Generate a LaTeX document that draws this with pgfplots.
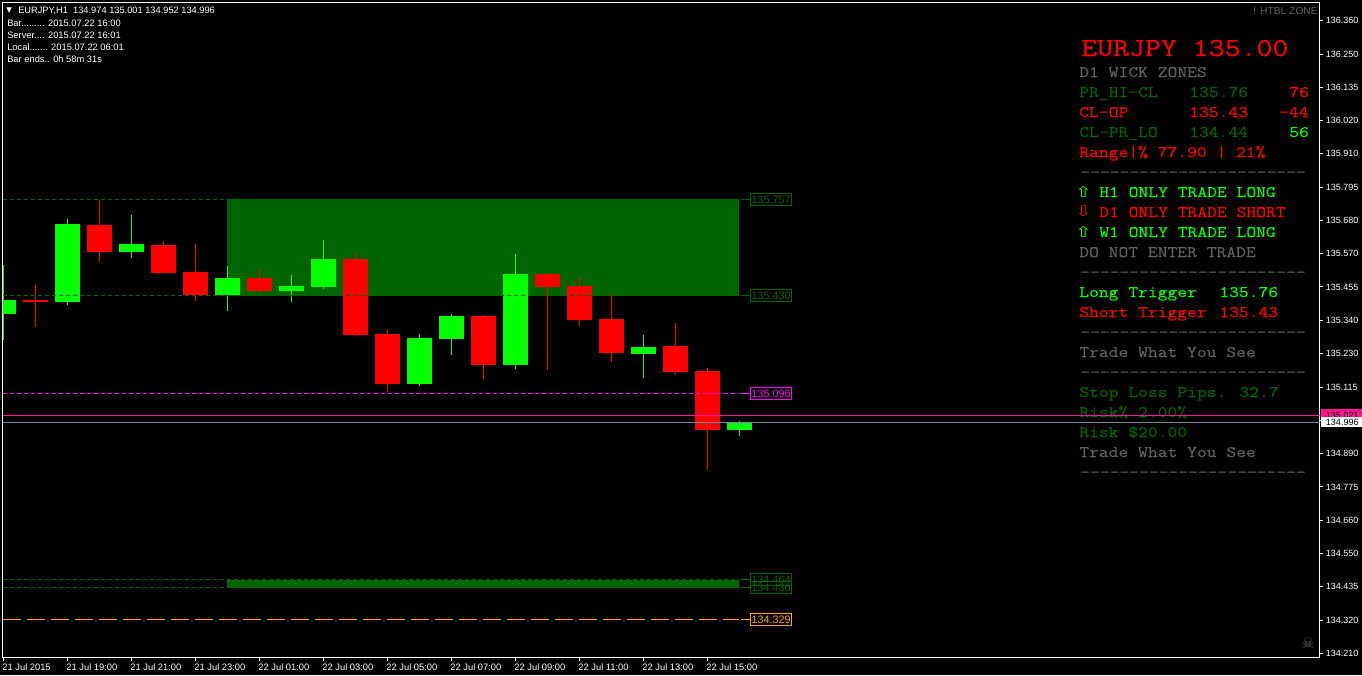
\documentclass[border=0pt]{standalone}
\usepackage{fontspec}
\setmainfont{Liberation Sans}
\newfontfamily\sym{DejaVu Sans}
\newfontfamily\cour[FakeStretch=1.19,FakeBold=0.2]{Latin Modern Mono}
\usepackage{pgfplots}
\usepackage{pgfplotstable}
\pgfplotsset{compat=1.18}

\definecolor{upcol}{RGB}{0,255,0}
\definecolor{dncol}{RGB}{255,0,0}
\definecolor{zone}{RGB}{0,100,0}
\definecolor{txtgray}{RGB}{96,96,96}
\definecolor{lvlorange}{RGB}{255,165,0}
\definecolor{lvlmag}{RGB}{255,0,255}
\definecolor{bidline}{RGB}{119,136,153}
\definecolor{askline}{RGB}{255,20,147}

% candles: i = bar number (1 bar = 32 px)
\pgfplotstableread{
i  bot     top     low     high
0  135.368 135.416 135.280 135.535
2  135.409 135.674 135.399 135.691
4  135.579 135.606 135.559 135.704
7  135.433 135.490 135.378 135.531
9  135.446 135.463 135.409 135.501
10 135.460 135.555 135.453 135.619
13 135.131 135.287 135.124 135.300
14 135.283 135.361 135.229 135.368
16 135.195 135.504 135.181 135.572
20 135.232 135.256 135.151 135.297
23 134.974 135.001 134.954 135.005
}\upbars
\pgfplotstableread{
i  bot     top     low     high
1  135.409 135.416 135.324 135.467
3  135.579 135.670 135.545 135.757
5  135.507 135.603 135.507 135.616
6  135.433 135.511 135.412 135.606
8  135.446 135.490 135.440 135.521
11 135.297 135.555 135.293 135.575
12 135.131 135.300 135.103 135.317
15 135.195 135.361 135.147 135.365
17 135.460 135.504 135.178 135.504
18 135.348 135.463 135.327 135.497
19 135.236 135.351 135.205 135.433
21 135.171 135.260 135.161 135.338
22 134.974 135.175 134.838 135.185
}\dnbars

\newcommand\mrow[4]{\node[anchor=base west,inner sep=0pt,text=#3] at (#1,#2)
  {\cour\fontsize{12}{14}\selectfont #4};}
\newcommand\info[3]{\node[anchor=west,inner sep=0pt,text=#3] at (7,#1)
  {\fontsize{7}{8}\selectfont #2};}
\newcommand\dashrow[1]{\mrow{1080}{#1}{txtgray}{-----------------------}}
\newcommand\arrowmark[3]{\node[anchor=base west,inner sep=0pt,text=#3,xscale=1.4,transform shape]
  at (1074.5,#1) {\sym\fontsize{11}{12}\selectfont #2};}

\newcommand\lvlbox[4]{\node[draw=#3,text=#3,line width=.75pt,inner sep=0pt,
  minimum width=31pt,minimum height=9pt,font=\fontsize{8.1}{9}\selectfont]
  at (axis cs:#1,#2) {#4};}

\begin{document}
\begin{tikzpicture}
\begin{scope}[x=.75pt,y=-.75pt]
  \fill[black] (0,0) rectangle (1362,675);
  \useasboundingbox (0,0) rectangle (1362,675);

  % info block
  \node[anchor=west,inner sep=0pt,text=white] at (6,10.5) {\sym\fontsize{5.5}{6}\selectfont ▼};
  \node[anchor=west,inner sep=0pt,text=white] at (18,10.5)
    {\fontsize{6.95}{8}\selectfont EURJPY,H1\ \ 134.974 135.001 134.952 134.996};
  \info{23.5}{Bar......... 2015.07.22 16:00}{white}
  \info{35.5}{Server.... 2015.07.22 16:01}{white}
  \info{47.5}{Local....... 2015.07.22 06:01}{white}
  \info{59.5}{Bar ends.. 0h 58m 31s}{white}
  \node[anchor=east,inner sep=0pt,text=txtgray] at (1318,11)
    {\fontsize{7.7}{8}\selectfont ! HTBL ZONE};
  \node[text=txtgray,inner sep=0pt] at (1308,643) {\sym\fontsize{11}{12}\selectfont ☠};

  % text panel
  \node[anchor=base west,inner sep=0pt,text=dncol] at (1081,56)
    {\cour\fontsize{19.5}{22}\selectfont EURJPY 135.00};
  \mrow{1079}{77}{txtgray}{D1 WICK ZONES}
  \mrow{1079}{97}{zone}{PR\_HI-CL}
  \mrow{1189}{97}{zone}{135.76}
  \mrow{1289}{97}{dncol}{76}
  \mrow{1079}{117}{dncol}{CL-OP}
  \mrow{1189}{117}{dncol}{135.43}
  \mrow{1279}{117}{dncol}{-44}
  \mrow{1079}{137}{zone}{CL-PR\_LO}
  \mrow{1189}{137}{zone}{134.44}
  \mrow{1289}{137}{upcol}{56}
  \mrow{1079}{157}{dncol}{Range|\% 77.90 | 21\%}
  \dashrow{177}
  \arrowmark{197}{⇧}{upcol}
  \mrow{1099}{197}{upcol}{H1 ONLY TRADE LONG}
  \arrowmark{216}{⇩}{dncol}
  \mrow{1099}{217}{dncol}{D1 ONLY TRADE SHORT}
  \arrowmark{237}{⇧}{upcol}
  \mrow{1099}{237}{upcol}{W1 ONLY TRADE LONG}
  \mrow{1079}{257}{txtgray}{DO NOT ENTER TRADE}
  \dashrow{277}
  \mrow{1079}{297}{upcol}{Long Trigger}
  \mrow{1219}{297}{upcol}{135.76}
  \mrow{1079}{317}{dncol}{Short Trigger}
  \mrow{1219}{317}{dncol}{135.43}
  \dashrow{337}
  \mrow{1079}{357}{txtgray}{Trade What You See}
  \dashrow{377}
  \mrow{1079}{397}{zone}{Stop Loss Pips. 32.7}
  \mrow{1079}{417}{zone}{Risk\% 2.00\%}
  \mrow{1079}{437}{zone}{Risk \$20.00}
  \mrow{1079}{457}{txtgray}{Trade What You See}
  \dashrow{477}
\end{scope}

\begin{axis}[
  at={(1.875pt,-493.125pt)}, anchor=south west,
  scale only axis, width=987.75pt, height=491.25pt,
  xmin=-0.03125, xmax=41.125, ymin=134.20165, ymax=136.4260,
  axis line style={white,line width=.75pt},
  tick style={white,line width=.75pt},
  major tick length=2.5pt,
  tick align=outside, xtick pos=bottom, ytick pos=right,
  yticklabel pos=right,
  xtick={0,2,...,22},
  xticklabels={21 Jul 2015,21 Jul 19:00,21 Jul 21:00,21 Jul 23:00,22 Jul 01:00,22 Jul 03:00,
    22 Jul 05:00,22 Jul 07:00,22 Jul 09:00,22 Jul 11:00,22 Jul 13:00,22 Jul 15:00},
  xticklabel style={anchor=north west,inner sep=0pt,xshift=-1pt,yshift=-2pt,text=white,
    font=\fontsize{7}{8}\selectfont},
  ytick={136.364,136.251,136.138,136.025,135.912,135.799,135.686,135.573,135.460,135.346,
    135.233,135.120,135.007,134.894,134.781,134.668,134.555,134.442,134.329,134.215},
  yticklabels={136.360,136.250,136.135,136.020,135.910,135.795,135.680,135.570,135.455,135.340,
    135.230,135.115,{},134.890,134.775,134.660,134.550,134.435,134.320,134.210},
  yticklabel style={anchor=west,inner sep=0pt,xshift=2pt,text=white,
    font=\fontsize{6.75}{8}\selectfont},
  every error bar/.append style={line cap=butt},
]
  % wick zones
  \addplot[fill=zone,draw=none] coordinates {(6.984,135.7585) (22.984,135.7585) (22.984,135.431) (6.984,135.431)};
  \addplot[fill=zone,draw=none] coordinates {(6.984,134.4665) (22.984,134.4665) (22.984,134.4394) (6.984,134.4394)};

  % wicks
  \addplot[draw=none,no marks,error bars/.cd,y dir=plus,y explicit,error mark=none,
    error bar style={draw=upcol,line width=.75pt}]
    table[x=i,y=low,y error plus expr=\thisrow{high}-\thisrow{low}] {\upbars};
  \addplot[draw=none,no marks,error bars/.cd,y dir=plus,y explicit,error mark=none,
    error bar style={draw=dncol,line width=.75pt}]
    table[x=i,y=low,y error plus expr=\thisrow{high}-\thisrow{low}] {\dnbars};
  % bodies
  \addplot[draw=none,no marks,error bars/.cd,y dir=plus,y explicit,error mark=none,
    error bar style={draw=upcol,line width=18.75pt}]
    table[x=i,y=bot,y error plus expr=\thisrow{top}-\thisrow{bot}] {\upbars};
  \addplot[draw=none,no marks,error bars/.cd,y dir=plus,y explicit,error mark=none,
    error bar style={draw=dncol,line width=18.75pt}]
    table[x=i,y=bot,y error plus expr=\thisrow{top}-\thisrow{bot}] {\dnbars};

  % levels
  \addplot[zone,line width=.75pt,dash pattern=on 3pt off 2.25pt] coordinates {(-0.03,135.757) (22.98,135.757)};
  \addplot[zone,line width=.75pt] coordinates {(23.05,135.757) (23.34,135.757)};
  \addplot[zone,line width=.75pt,dash pattern=on 3pt off 2.25pt] coordinates {(-0.03,135.431) (22.98,135.431)};
  \addplot[zone,line width=.75pt] coordinates {(23.05,135.431) (23.34,135.431)};
  \addplot[zone,line width=.75pt,dash pattern=on 3pt off 2.25pt] coordinates {(-0.03,134.4665) (22.98,134.4665)};
  \addplot[zone,line width=.75pt] coordinates {(23.05,134.4665) (23.34,134.4665)};
  \addplot[zone,line width=.75pt,dash pattern=on 3pt off 2.25pt] coordinates {(-0.03,134.4394) (22.98,134.4394)};
  \addplot[zone,line width=.75pt] coordinates {(23.05,134.4394) (23.34,134.4394)};
  \addplot[lvlmag,line width=.75pt,dash pattern=on 3pt off 2.25pt] coordinates {(-0.03,135.098) (22.98,135.098)};
  \addplot[lvlmag,line width=.75pt] coordinates {(23.05,135.098) (23.34,135.098)};
  \addplot[lvlorange,line width=.75pt,dash pattern=on 13.5pt off 4.5pt] coordinates {(-0.03,134.331) (22.98,134.331)};
  \addplot[lvlorange,line width=.75pt] coordinates {(23.05,134.331) (23.34,134.331)};

  % price lines
  \addplot[askline,line width=.75pt] coordinates {(-0.03,135.0235) (41.125,135.0235)};
  \addplot[bidline,line width=.75pt] coordinates {(-0.03,134.9997) (41.125,134.9997)};

  % level tags
  \lvlbox{23.99}{135.757}{zone}{135.757}
  \lvlbox{23.99}{135.431}{zone}{135.430}
  \lvlbox{23.99}{135.098}{lvlmag}{135.096}
  \lvlbox{23.99}{134.4665}{zone}{134.464}
  \lvlbox{23.99}{134.4394}{zone}{134.436}
  \lvlbox{23.99}{134.331}{lvlorange}{134.329}
\end{axis}

\begin{scope}[x=.75pt,y=-.75pt]
  \fill[askline] (1320.5,409) rectangle (1362,421);
  \node[text=black,inner sep=0pt,anchor=west] at (1325.7,415) {\fontsize{6.75}{8}\selectfont 135.021};
  \fill[white] (1320.5,417) rectangle (1362,427);
  \node[text=black,inner sep=0pt,anchor=west] at (1325.7,422) {\fontsize{6.75}{8}\selectfont 134.996};
\end{scope}
\end{tikzpicture}
\end{document}
